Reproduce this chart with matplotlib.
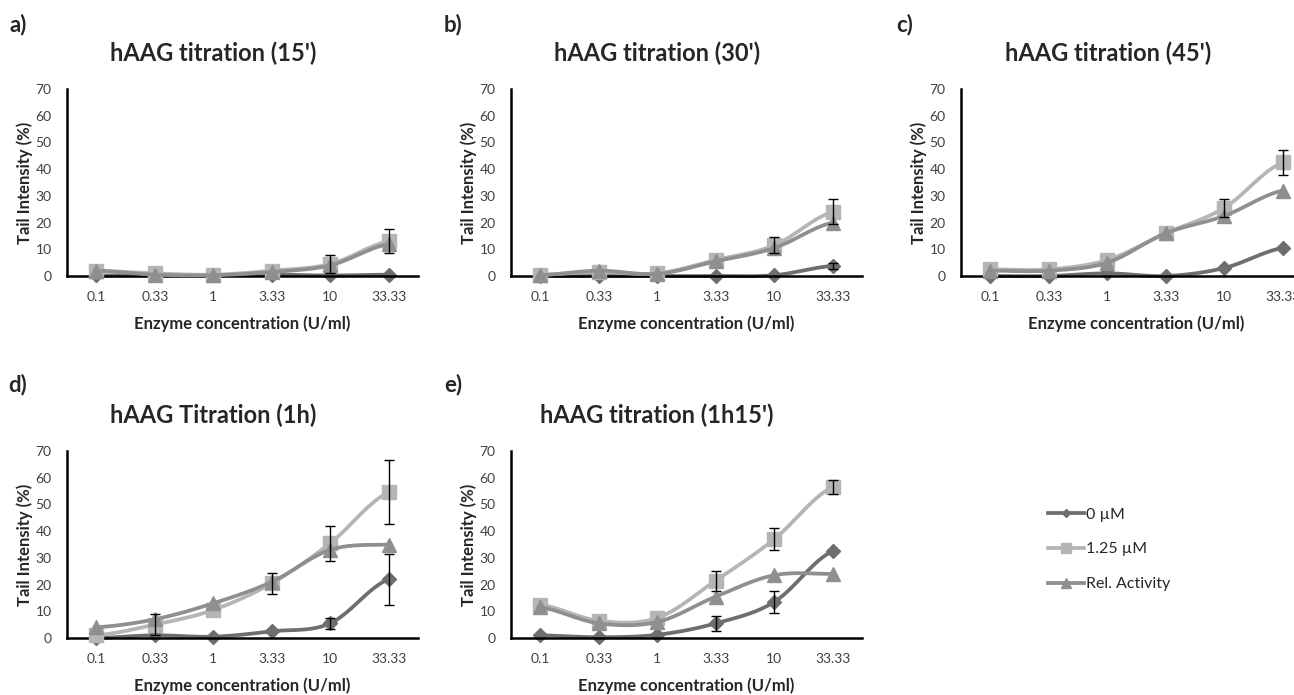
import numpy as np
import matplotlib
matplotlib.use("Agg")
import matplotlib.pyplot as plt
from matplotlib.lines import Line2D

plt.rcParams['font.family'] = ['Lato', 'DejaVu Sans']

concentrations = ["0.1", "0.33", "1", "3.33", "10", "33.33"]
series_names = ["0 \u00b5M", "1.25 \u00b5M", "Rel. Activity"]

# tail intensity (%) per timepoint: 0 uM, 1.25 uM, relative activity
t15_zero = [0.2, 0.2, 0.2, 0.5, 0.2, 0.5]
t15_high = [2.0, 1.0, 0.5, 2.0, 4.5, 13.0]
t15_rel = [2.0, 0.5, 0.3, 1.5, 4.0, 12.0]
t15_zero_err = [0, 0, 0, 0, 0, 0]
t15_high_err = [0, 0, 0, 0, 3.5, 4.5]

t30_zero = [0.0, 0.0, 0.0, 0.0, 0.3, 3.8]
t30_high = [0.5, 1.5, 1.0, 6.0, 11.5, 24.0]
t30_rel = [0.3, 2.0, 0.8, 5.5, 10.5, 20.0]
t30_zero_err = [0, 0, 0, 0, 0, 1.0]
t30_high_err = [0, 0, 0, 0, 3.0, 4.7]

t45_zero = [0.0, 0.0, 1.0, 0.0, 3.0, 10.5]
t45_high = [2.5, 2.5, 6.0, 16.0, 25.5, 42.5]
t45_rel = [2.0, 2.0, 5.0, 16.0, 22.5, 32.0]
t45_zero_err = [0, 0, 0, 0, 0, 0]
t45_high_err = [0, 0, 0, 0, 3.5, 4.7]

t60_zero = [0.0, 1.0, 0.5, 2.5, 5.5, 22.0]
t60_high = [1.0, 5.0, 10.5, 20.5, 35.5, 54.5]
t60_rel = [4.0, 7.0, 13.0, 21.0, 33.0, 35.0]
t60_zero_err = [0, 0, 0, 0, 2.0, 9.5]
t60_high_err = [0, 4.0, 0, 4.0, 6.5, 12.0]

t75_zero = [1.0, 0.3, 1.2, 5.5, 13.5, 32.5]
t75_high = [12.5, 6.5, 7.5, 21.5, 37.0, 56.5]
t75_rel = [11.5, 5.5, 6.0, 15.5, 23.5, 24.0]
t75_zero_err = [0, 0, 0, 2.75, 4.2, 0]
t75_high_err = [0, 0, 0, 3.75, 4.0, 2.6]

colors = ["#6e6e6e", "#b5b5b5", "#8f8f8f"]
markers = ["D", "s", "^"]
msizes = [7, 10.5, 10.5]
text_col = "#262626"

W, H = 1294, 695


def smooth(y, steps=24):
    # Catmull-Rom curve through the points, the same look as smoothed spreadsheet lines
    y = np.asarray(y, float)
    x = np.arange(len(y), dtype=float)
    px = np.concatenate([[2 * x[0] - x[1]], x, [2 * x[-1] - x[-2]]])
    py = np.concatenate([[y[0]], y, [y[-1]]])
    xs, ys = [], []
    t = np.linspace(0, 1, steps)
    for i in range(1, len(px) - 2):
        for P, out in ((px[i - 1:i + 3], xs), (py[i - 1:i + 3], ys)):
            a, b, c, d = P
            out.append(0.5 * (2 * b + (-a + c) * t + (2 * a - 5 * b + 4 * c - d) * t ** 2
                              + (-a + 3 * b - 3 * c + d) * t ** 3))
    return np.concatenate(xs), np.concatenate(ys)


def panel(x0, bottom, zero, high, rel, zero_err, high_err):
    # x0 / bottom are pixel positions measured from the top-left corner
    ax = fig.add_axes([x0 / W, 1 - bottom / H, 351 / W, 187 / H])
    idx = np.arange(len(concentrations))
    for k, (vals, err) in enumerate(((zero, zero_err), (high, high_err), (rel, None))):
        sx, sy = smooth(vals)
        ax.plot(sx, sy, color=colors[k], lw=2.7, zorder=2 + k, clip_on=False,
                solid_capstyle='round')
        ax.plot(idx, vals, ls='none', marker=markers[k], ms=msizes[k], color=colors[k],
                zorder=2 + k, clip_on=False)
        if err is not None:
            e = np.asarray(err, float)
            m = e > 0
            ax.errorbar(idx[m], np.asarray(vals)[m], yerr=e[m], fmt='none', ecolor='black',
                        elinewidth=1, capsize=3.5, capthick=1, zorder=6, clip_on=False)
    ax.set_xlim(-0.5, 5.5)
    ax.set_ylim(0, 70)
    ax.set_yticks(range(0, 71, 10))
    ax.set_xticks(idx)
    ax.set_xticklabels(concentrations)
    ax.tick_params(length=0, labelsize=10, labelcolor="#404040", pad=11)
    for s in ("top", "right"):
        ax.spines[s].set_visible(False)
    for s in ("left", "bottom"):
        ax.spines[s].set_linewidth(1.8)
        ax.spines[s].set_color("black")
    ax.set_xlabel("Enzyme concentration (U/ml)", fontsize=12, fontweight='bold',
                  color=text_col, labelpad=9)
    ax.set_ylabel("Tail Intensity (%)", fontsize=12, fontweight='bold',
                  color=text_col, labelpad=2)
    return ax


fig = plt.figure(figsize=(W / 100, H / 100), dpi=100)

layout = [
    (67, 276, (18, 25), "a)", (213, 53), "hAAG titration (15')",
     t15_zero, t15_high, t15_rel, t15_zero_err, t15_high_err),
    (511, 276, (453, 25), "b)", (657, 53), "hAAG titration (30')",
     t30_zero, t30_high, t30_rel, t30_zero_err, t30_high_err),
    (961, 276, (905, 25), "c)", (1108, 53), "hAAG titration (45')",
     t45_zero, t45_high, t45_rel, t45_zero_err, t45_high_err),
    (67, 638, (18, 385), "d)", (213, 415), "hAAG Titration (1h)",
     t60_zero, t60_high, t60_rel, t60_zero_err, t60_high_err),
    (511, 638, (453, 385), "e)", (657, 415), "hAAG titration (1h15')",
     t75_zero, t75_high, t75_rel, t75_zero_err, t75_high_err),
]

for x0, yb, (lx, ly), letter, (tx, ty), title, z, h, r, ze, he in layout:
    panel(x0, yb, z, h, r, ze, he)
    fig.text(lx / W, 1 - ly / H, letter, fontsize=16, fontweight='bold', color=text_col,
             ha='center', va='center')
    fig.text(tx / W, 1 - ty / H, title, fontsize=17, fontweight='bold', color=text_col,
             ha='center', va='center')

handles = [Line2D([], [], color=colors[k], lw=2.7, marker=markers[k], ms=msizes[k] - 3)
           for k in range(3)]
fig.legend(handles, series_names, loc='upper left', bbox_to_anchor=(1034 / W, 1 - 493 / H),
           frameon=False, fontsize=11.5, handlelength=2.2, handletextpad=0.15,
           labelspacing=1.3, labelcolor=text_col)

fig.savefig("out.png", dpi=100)
